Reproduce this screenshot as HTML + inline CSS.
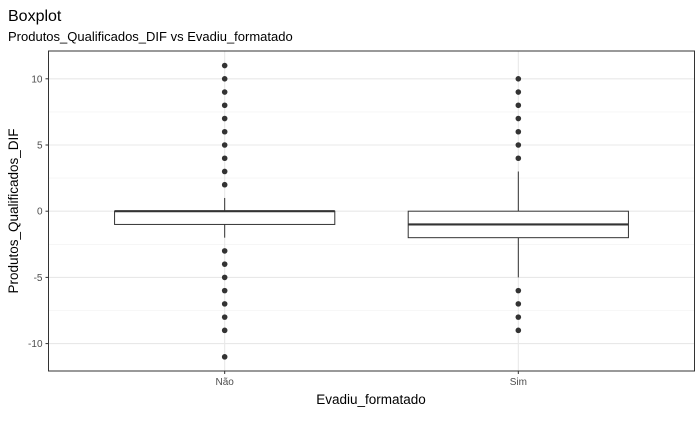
<!DOCTYPE html>
<html><head><meta charset="utf-8"><style>
body{margin:0;background:#fff;font-family:"Liberation Sans",Arial,sans-serif}
</style></head><body>
<svg id="chart" width="700" height="432" xmlns="http://www.w3.org/2000/svg">
<text x="8" y="21" font-size="16" fill="#000">Boxplot</text>
<text x="8" y="41" font-size="13" fill="#000">Produtos_Qualificados_DIF vs Evadiu_formatado</text>
<g id="grid"></g><g id="marks"></g><g id="axes"></g>
<text x="371" y="404" font-size="13.5" text-anchor="middle">Evadiu_formatado</text>
<text transform="translate(18,211) rotate(-90)" font-size="13.5" text-anchor="middle">Produtos_Qualificados_DIF</text>
</svg>
<script>
const categories=["Não","Sim"];
const q1=[-1,-2];
const medians=[0,-1];
const q3=[0,0];
const whiskerLow=[-2,-5];
const whiskerHigh=[1,3];
const outliersNao=[2,3,4,5,6,7,8,9,10,11,-3,-4,-5,-6,-7,-8,-9,-11];
const outliersSim=[4,5,6,7,8,9,10,-6,-7,-8,-9];
const outliers=[outliersNao,outliersSim];
const yTicks=[-10,-5,0,5,10];
const L=48.5,R=694.5,T=51,B=371;
const yMin=-12.07,yMax=12.1;
const y=v=>B-(v-yMin)/(yMax-yMin)*(B-T);
const unit=(R-L)/(categories.length+0.2);
const x=i=>L+unit*(i+0.6);
const NS="http://www.w3.org/2000/svg";
function mk(p,t,a){const e=document.createElementNS(NS,t);for(const k in a)e.setAttribute(k,a[k]);p.appendChild(e);return e;}
const grid=document.getElementById('grid'),marks=document.getElementById('marks'),axes=document.getElementById('axes');
for(let i=0;i<yTicks.length;i++){
 const v=yTicks[i];
 if(i<yTicks.length-1){const m=(v+yTicks[i+1])/2;
  const g=mk(grid,'line',{x1:L,x2:R,y1:y(m),y2:y(m),stroke:'#f0f0f0','stroke-width':0.6});
  
  }
 const gl=mk(grid,'line',{x1:L,x2:R,y1:y(v),y2:y(v),stroke:'#e8e8e8','stroke-width':1.1});
 
 
 const tk=mk(axes,'line',{x1:L-3,x2:L,y1:y(v),y2:y(v),stroke:'#333'});
 
 
 const t=mk(axes,'text',{x:L-6,y:y(v)+3.5,'font-size':10,'text-anchor':'end',fill:'#4d4d4d'});
 t.textContent=v;
 
 
}
categories.forEach((c,i)=>{
 const cx=x(i),hw=unit*0.75/2;
 const vg=mk(grid,'line',{x1:cx,x2:cx,y1:T,y2:B,stroke:'#e8e8e8','stroke-width':1.1});
 
 
 const w1=mk(marks,'line',{x1:cx,x2:cx,y1:y(q3[i]),y2:y(whiskerHigh[i]),stroke:'#333'});
 
 
 const w2=mk(marks,'line',{x1:cx,x2:cx,y1:y(q1[i]),y2:y(whiskerLow[i]),stroke:'#333'});
 
 
 const bx=mk(marks,'rect',{x:cx-hw,y:y(q3[i]),width:2*hw,height:y(q1[i])-y(q3[i]),fill:'#fff',stroke:'#333'});
 
 
 const md=mk(marks,'line',{x1:cx-hw,x2:cx+hw,y1:y(medians[i]),y2:y(medians[i]),stroke:'#333','stroke-width':2.2});
 
 
 outliers[i].forEach(v=>{
  const d=mk(marks,'circle',{cx:cx,cy:y(v),r:2.8,fill:'#333'});
  
  
 });
 const tk=mk(axes,'line',{x1:cx,x2:cx,y1:B,y2:B+3,stroke:'#333'});
 
 
 const t=mk(axes,'text',{x:cx,y:B+14,'font-size':10,'text-anchor':'middle',fill:'#4d4d4d'});
 t.textContent=c;
 
 
});
const fr=mk(axes,'rect',{x:L,y:T,width:R-L,height:B-T,fill:'none',stroke:'#333','stroke-width':1});


</script>
</body></html>
